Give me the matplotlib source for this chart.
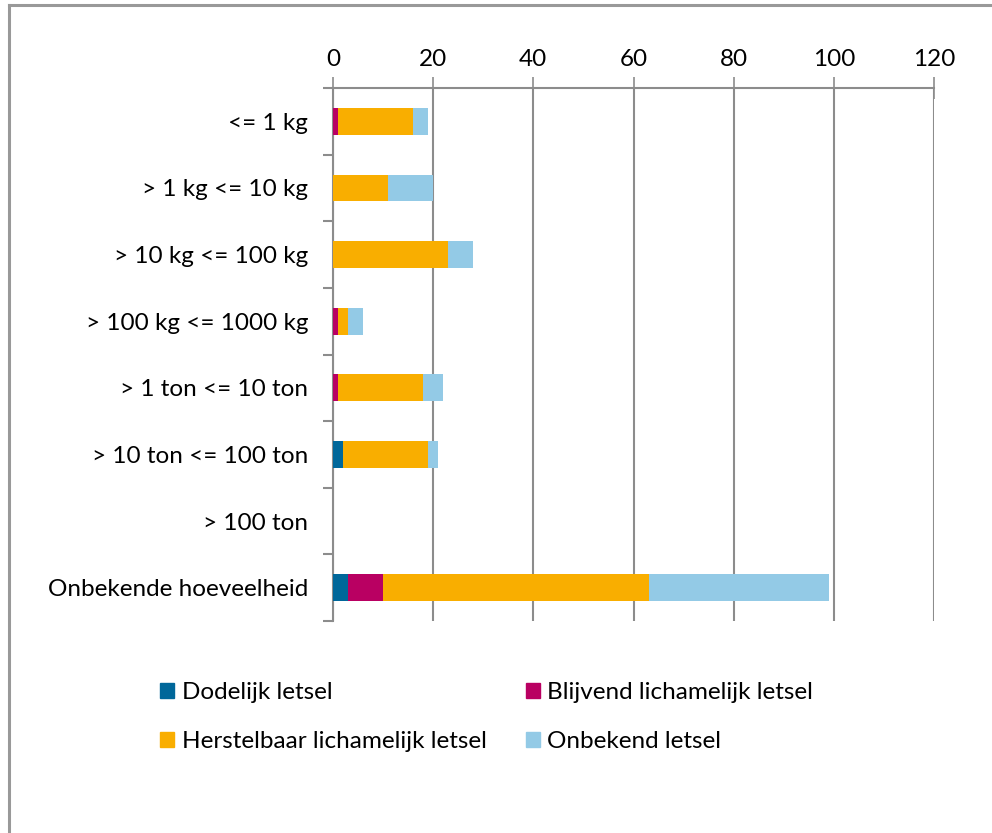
import matplotlib.pyplot as plt
import numpy as np
from matplotlib.patches import Patch
from matplotlib.lines import Line2D

plt.rcParams["font.family"] = ["Lato", "DejaVu Sans"]

categories = ["<= 1 kg", "> 1 kg <= 10 kg", "> 10 kg <= 100 kg", "> 100 kg <= 1000 kg",
              "> 1 ton <= 10 ton", "> 10 ton <= 100 ton", "> 100 ton", "Onbekende hoeveelheid"]
dodelijk = [0, 0, 0, 0, 0, 2, 0, 3]
blijvend = [1, 0, 0, 1, 1, 0, 0, 7]
herstelbaar = [15, 11, 23, 2, 17, 17, 0, 53]
onbekend = [3, 9, 5, 3, 4, 2, 0, 36]

series = ["Dodelijk letsel", "Blijvend lichamelijk letsel",
          "Herstelbaar lichamelijk letsel", "Onbekend letsel"]
colors = ["#00679A", "#B90062", "#F9AE00", "#93CAE6"]
xticks = [0, 20, 40, 60, 80, 100, 120]

fs = 17.5

fig = plt.figure(figsize=(9.92, 8.33), dpi=100)
ax = fig.add_axes([333 / 992, 1 - 621 / 833, 601 / 992, 533 / 833])

y = np.arange(len(categories))
left = np.zeros(len(categories))
for vals, name, c in zip([dodelijk, blijvend, herstelbaar, onbekend], series, colors):
    ax.barh(y, vals, left=left, height=0.4, color=c, label=name, zorder=3)
    left += np.array(vals)

ax.set_xlim(0, 120)
ax.set_ylim(len(categories) - 0.5, -0.5)
ax.xaxis.tick_top()
ax.set_xticks(xticks)
ax.tick_params(axis="x", direction="inout", length=16, width=1.2, color="#8c8c8c",
               labelsize=fs, pad=5)
ax.grid(axis="x", color="#8c8c8c", linewidth=1.5, zorder=0)

ax.set_yticks(y)
ax.set_yticklabels(categories)
ax.set_yticks(np.arange(len(categories) + 1) - 0.5, minor=True)
ax.tick_params(axis="y", which="major", length=0, labelsize=fs, pad=18)
ax.tick_params(axis="y", which="minor", length=7, width=1.5, color="#8c8c8c")

for s in ["bottom", "right"]:
    ax.spines[s].set_visible(False)
ax.spines["top"].set_color("#8c8c8c")
ax.spines["top"].set_linewidth(1.5)
ax.spines["left"].set_color("#8c8c8c")
ax.spines["left"].set_linewidth(1.5)

# outer frame
fig.add_artist(Line2D([9 / 992, 9 / 992], [0, 1 - 5 / 833], color="#999999", lw=2.2))
fig.add_artist(Line2D([9 / 992, 1], [1 - 5 / 833, 1 - 5 / 833], color="#999999", lw=2.2))

handles = [Patch(color=c) for c in colors]
order = [0, 2, 1, 3]
fig.legend([handles[i] for i in order], [series[i] for i in order], ncol=2,
           loc="upper left", bbox_to_anchor=(138 / 992, 1 - 660 / 833),
           frameon=False, fontsize=fs, handlelength=0.6, handleheight=0.6,
           handletextpad=0.3, labelspacing=1.17, columnspacing=1.6)

plt.savefig("out.png")
